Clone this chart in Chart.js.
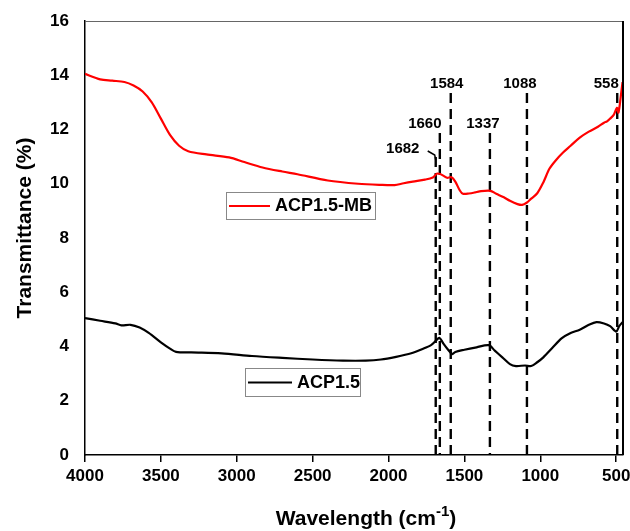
<!doctype html>
<html>
<head>
<meta charset="utf-8">
<title>FTIR ACP1.5</title>
<script src="https://cdn.jsdelivr.net/npm/chart.js@4"></script>
<style>
  body { margin: 0; background: #fff; }
  canvas { display: block; }
</style>
</head>
<body>
<canvas id="myChart" width="630" height="531"></canvas>
<script>
// wavenumber (cm-1) and transmittance (%)
var redX = [4000, 3900, 3820, 3740, 3680, 3620, 3560, 3500, 3440, 3380, 3320, 3200, 3050, 2950, 2830, 2700, 2600, 2400, 2200, 2060, 1960, 1900, 1840, 1760, 1708, 1682, 1660, 1640, 1615, 1585, 1560, 1530, 1510, 1470, 1430, 1400, 1330, 1290, 1240, 1200, 1150, 1120, 1090, 1060, 1020, 980, 940, 900, 850, 800, 740, 680, 620, 580, 560, 540, 515, 495, 485, 470, 458];
var redY = [14.05, 13.85, 13.8, 13.75, 13.62, 13.4, 13.0, 12.4, 11.8, 11.4, 11.2, 11.08, 10.97, 10.8, 10.6, 10.45, 10.35, 10.12, 10.0, 9.96, 9.95, 10.02, 10.08, 10.15, 10.23, 10.37, 10.36, 10.3, 10.22, 10.24, 10.08, 9.75, 9.63, 9.64, 9.68, 9.72, 9.74, 9.63, 9.5, 9.37, 9.25, 9.22, 9.3, 9.45, 9.65, 10.05, 10.55, 10.85, 11.15, 11.4, 11.7, 11.92, 12.1, 12.25, 12.3, 12.4, 12.55, 12.8, 12.62, 13.2, 13.75];

var blackX = [4000, 3900, 3800, 3760, 3700, 3640, 3580, 3500, 3440, 3400, 3300, 3100, 2900, 2700, 2500, 2300, 2150, 2050, 1950, 1850, 1780, 1720, 1690, 1665, 1640, 1610, 1580, 1560, 1500, 1420, 1340, 1300, 1250, 1200, 1160, 1100, 1060, 1020, 980, 920, 860, 800, 740, 680, 630, 580, 540, 500, 480, 458];
var blackY = [5.05, 4.95, 4.85, 4.78, 4.8, 4.7, 4.5, 4.15, 3.92, 3.8, 3.78, 3.75, 3.65, 3.58, 3.52, 3.48, 3.48, 3.52, 3.62, 3.75, 3.9, 4.05, 4.2, 4.32, 4.12, 3.9, 3.72, 3.8, 3.88, 3.97, 4.05, 3.85, 3.6, 3.35, 3.28, 3.3, 3.28, 3.42, 3.6, 3.95, 4.3, 4.5, 4.62, 4.8, 4.9, 4.85, 4.75, 4.55, 4.75, 4.9];

// dashed peak markers: where they are drawn, their label, and the top of each dash line
var markerX = [1689, 1662, 1590, 1332, 1088, 493];
var markerLabels = ['1682', '1660', '1584', '1337', '1088', '558'];
var markerTop = [10.99, 11.87, 13.35, 11.87, 13.35, 13.35];

var xTicks = [4000, 3500, 3000, 2500, 2000, 1500, 1000, 500];
var yTicks = [0, 2, 4, 6, 8, 10, 12, 14, 16];
var seriesNames = ['ACP1.5-MB', 'ACP1.5'];

var FONT = "'Liberation Sans', Arial, sans-serif";

function pts(xs, ys) {
  return xs.map(function (x, i) { return { x: x, y: ys[i] }; });
}

var datasets = [
  { label: seriesNames[0], data: pts(redX, redY), borderColor: '#ff0000', borderWidth: 2.2, tension: 0.3 },
  { label: seriesNames[1], data: pts(blackX, blackY), borderColor: '#000000', borderWidth: 2.2, tension: 0.3 }
];
markerX.forEach(function (x, i) {
  datasets.push({
    label: 'marker ' + markerLabels[i],
    data: [{ x: x, y: markerTop[i] }, { x: x, y: 0 }],
    borderColor: '#000', borderWidth: 2.4, borderDash: [10, 6], tension: 0
  });
});

// label placement for markers (pixel offset from the dash line, pixel y)
var labelStyle = [
  { dx: -33, y: 149 }, { dx: -15, y: 124 }, { dx: -4, y: 84 },
  { dx: -7, y: 124 }, { dx: -7, y: 84 }, { dx: -11, y: 84 }
];

var extras = {
  id: 'extras',
  afterDraw: function (chart) {
    var ctx = chart.ctx, a = chart.chartArea, xs = chart.scales.x;
    ctx.save();
    // frame: top and right
    ctx.strokeStyle = '#666';
    ctx.lineWidth = 1;
    ctx.beginPath(); ctx.moveTo(a.left, a.top + 0.5); ctx.lineTo(a.right, a.top + 0.5); ctx.stroke();
    ctx.strokeStyle = '#000';
    ctx.lineWidth = 2;
    ctx.beginPath(); ctx.moveTo(a.right, a.top); ctx.lineTo(a.right, a.bottom); ctx.stroke();

    // marker labels
    ctx.fillStyle = '#000';
    ctx.font = 'bold 15px ' + FONT;
    ctx.textAlign = 'center';
    ctx.textBaseline = 'middle';
    markerLabels.forEach(function (t, i) {
      var px = xs.getPixelForValue(markerX[i]);
      ctx.fillText(t, px + labelStyle[i].dx, labelStyle[i].y);
    });
    // leader for 1682
    var p0 = xs.getPixelForValue(markerX[0]);
    ctx.lineWidth = 1.5;
    ctx.beginPath();
    ctx.moveTo(p0 - 8, 151); ctx.lineTo(p0 - 1, 155); ctx.lineTo(p0, 160);
    ctx.stroke();

    // legend boxes
    function legendBox(x, y, w, h, color, text, lineLen) {
      ctx.strokeStyle = '#888';
      ctx.lineWidth = 1;
      ctx.strokeRect(x + 0.5, y + 0.5, w, h);
      ctx.strokeStyle = color;
      ctx.lineWidth = 2.2;
      ctx.beginPath(); ctx.moveTo(x + 3, y + h / 2 + 0.5); ctx.lineTo(x + 3 + lineLen, y + h / 2 + 0.5); ctx.stroke();
      ctx.fillStyle = '#000';
      ctx.font = 'bold 18px ' + FONT;
      ctx.textAlign = 'left';
      ctx.fillText(text, x + lineLen + 8, y + h / 2 + 1);
    }
    legendBox(226, 192, 149, 27, '#ff0000', seriesNames[0], 41);
    legendBox(245, 368, 115, 28, '#000000', seriesNames[1], 44);

    // axis titles
    ctx.fillStyle = '#000';
    ctx.font = 'bold 21px ' + FONT;
    ctx.textBaseline = 'alphabetic';
    var main = 'Wavelength (cm', sup = '-1', close = ')';
    var w1 = ctx.measureText(main).width;
    var w3 = ctx.measureText(close).width;
    ctx.font = 'bold 15px ' + FONT;
    var w2 = ctx.measureText(sup).width;
    var sx = 366 - (w1 + w2 + w3) / 2, base = 525;
    ctx.font = 'bold 21px ' + FONT;
    ctx.textAlign = 'left';
    ctx.fillText(main, sx, base);
    ctx.fillText(close, sx + w1 + w2, base);
    ctx.font = 'bold 15px ' + FONT;
    ctx.fillText(sup, sx + w1, base - 9);

    ctx.translate(25, 228);
    ctx.rotate(-Math.PI / 2);
    ctx.font = 'bold 21px ' + FONT;
    ctx.textAlign = 'center';
    ctx.textBaseline = 'middle';
    ctx.fillText('Transmittance (%)', 0, 0);
    ctx.restore();
  }
};

var ctx = document.getElementById('myChart').getContext('2d');
var chart = new Chart(ctx, {
  type: 'line',
  data: { datasets: datasets },
  options: {
    responsive: false,
    animation: false,
    layout: { padding: { top: 21, right: 7, left: 0, bottom: 0 } },
    elements: { point: { radius: 0 } },
    plugins: { legend: { display: false }, tooltip: { enabled: false } },
    scales: {
      x: {
        type: 'linear',
        reverse: true,
        min: 455,
        max: 4000,
        afterBuildTicks: function (s) { s.ticks = xTicks.map(function (v) { return { value: v }; }); },
        afterFit: function (s) { s.height = 76; s.paddingLeft = 0; s.paddingRight = 0; },
        grid: { drawOnChartArea: false, drawTicks: true, tickLength: 7, color: '#000', lineWidth: 1.5 },
        border: { display: true, color: '#000', width: 1.5 },
        ticks: { color: '#000', font: { family: FONT, size: 17, weight: 'bold' }, padding: 4, maxRotation: 0,
                 callback: function (v) { return String(v); } }
      },
      y: {
        min: 0,
        max: 16,
        afterBuildTicks: function (s) { s.ticks = yTicks.map(function (v) { return { value: v }; }); },
        afterFit: function (s) { s.width = 85; s.paddingTop = 0; s.paddingBottom = 0; },
        grid: { display: false },
        border: { display: true, color: '#000', width: 1.5 },
        ticks: { color: '#000', font: { family: FONT, size: 17, weight: 'bold' }, padding: 8,
                 callback: function (v) { return String(v); } }
      }
    }
  },
  plugins: [extras]
});
</script>
</body>
</html>
